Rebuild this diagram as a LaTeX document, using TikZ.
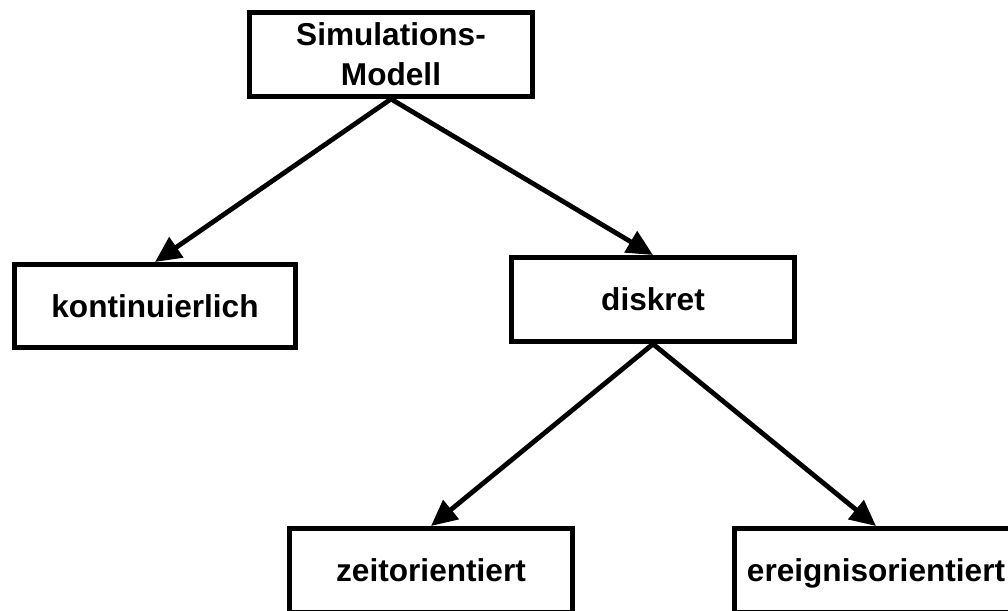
\documentclass[tikz,border=0pt]{standalone}
\usepackage{fontspec}
\setmainfont{Liberation Sans}
\usetikzlibrary{arrows.meta}
\begin{document}
\begin{tikzpicture}[x=1pt,y=-1pt,
  box/.style={draw=black, line width=5pt, fill=white, inner sep=0pt,
    minimum width=283pt, minimum height=84pt, align=center,
    font=\fontsize{31.6}{40}\selectfont\bfseries, text depth=0pt},
  link/.style={line width=4.8pt, -{Triangle[length=26pt,width=24pt]}}]
  \fill[white] (0,0) rectangle (1008,610);
  \useasboundingbox (0,0) rectangle (1008,610);
  % model hierarchy
  \node[box] (sim)  at (391,54.5)  {Simulations-\\Modell};
  \node[box, minimum width=281pt, minimum height=83pt] (kont) at (155,306) {kontinuierlich};
  \node[box] (disk) at (653,299.5) {diskret};
  \node[box] (zeit) at (431,570.5) {zeitorientiert};
  \node[box] (ereig) at (876,570.5) {ereignisorientiert};
  % connections
  \draw[link] (sim.south) -- (kont.north);
  \draw[link] (sim.south) -- (disk.north);
  \draw[link] (disk.south) -- (zeit.north);
  \draw[link] (disk.south) -- (ereig.north);
\end{tikzpicture}
\end{document}
